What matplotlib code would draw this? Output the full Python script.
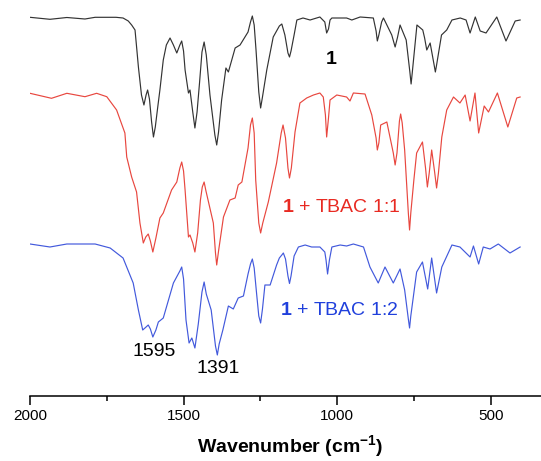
import numpy as np
import matplotlib
matplotlib.use("Agg")
import matplotlib.pyplot as plt

plt.rcParams['font.family'] = ['Liberation Sans', 'DejaVu Sans']
plt.rcParams['mathtext.fontset'] = 'custom'
plt.rcParams['mathtext.rm'] = 'Liberation Sans'
plt.rcParams['mathtext.bf'] = 'Liberation Sans:bold'

# IR spectra (wavenumber in cm-1, transmittance in arbitrary units)
wn_1 = [2000, 1935, 1880, 1821, 1788, 1720, 1697, 1680, 1669, 1658, 1652, 1647, 1637, 1629,
        1622, 1617, 1611, 1604, 1598, 1592, 1584, 1577, 1566, 1556, 1544, 1533, 1522, 1512,
        1506, 1500, 1495, 1484, 1479, 1470, 1463, 1456, 1448, 1440, 1433, 1426, 1414, 1398,
        1392, 1386, 1376, 1362, 1354, 1332, 1316, 1290, 1282, 1276, 1270, 1264, 1255, 1249,
        1243, 1229, 1208, 1188, 1180, 1170, 1160, 1155, 1150, 1140, 1131, 1111, 1088, 1056,
        1040, 1034, 1028, 1023, 1017, 969, 952, 925, 882, 873, 869, 864, 855, 849, 822, 811,
        803, 795, 775, 763, 759, 755, 740, 721, 715, 708, 697, 684, 680, 676, 660, 643, 626,
        599, 580, 567, 550, 534, 515, 480, 450, 420, 404]
t_1 = [99.7, 97.7, 99.5, 98, 99.7, 99.7, 99, 96, 92, 87, 67, 50, 22, 12,
       22, 27, 18, -5, -20, -10, 10, 27, 57, 72, 79, 72, 64, 72,
       76, 66, 47, 24, 27, 5, -11, 5, 34, 65, 75, 62, 22, -18,
       -28, -15, 17, 49, 45, 69, 72, 85, 95, 101, 92, 67, 25, 9,
       20, 47, 80, 91, 93, 82, 64, 60, 66, 82, 97, 99, 97, 100,
       95, 84, 88, 97, 99, 99, 97, 100, 99, 86, 76, 82, 95, 99, 82, 70,
       80, 92, 77, 45, 33, 45, 92, 87, 79, 67, 74, 52, 45, 52, 82, 87, 97,
       99, 97, 84, 100, 86, 84, 100, 76, 96, 97]

wn_11 = [2000, 1930, 1880, 1821, 1783, 1750, 1718, 1691, 1685, 1669, 1653, 1642, 1631, 1623,
         1615, 1608, 1600, 1590, 1577, 1566, 1539, 1522, 1512, 1506, 1500, 1495, 1484, 1479,
         1470, 1463, 1454, 1445, 1439, 1433, 1427, 1403, 1396, 1392, 1386, 1370, 1349, 1332,
         1322, 1310, 1290, 1282, 1276, 1270, 1265, 1255, 1249, 1242, 1224, 1197, 1182, 1176,
         1168, 1160, 1155, 1149, 1137, 1121, 1099, 1077, 1056, 1045, 1038, 1034, 1028, 1023,
         1001, 969, 958, 947, 909, 887, 873, 869, 864, 858, 838, 817, 811, 805, 797, 793, 788,
         780, 768, 764, 760, 750, 741, 722, 712, 706, 700, 692, 682, 676, 670, 659, 643, 621,
         600, 583, 567, 551, 539, 521, 507, 478, 444, 415, 404]
t_11 = [99.7, 94.7, 99.7, 96.3, 99.7, 96.3, 83, 60, 36, 16, 1, -30, -50, -44,
        -41, -48, -59, -45, -25, -20, 3, 11, 25, 31, 22, 3, -44, -42,
        -50, -59, -40, -7, 6, 11, 2, -30, -60, -72, -58, -24, -7, -5,
        8, 11, 45, 68, 75, 60, 13, -30, -40, -30, -9, 30, 60, 68,
        55, 25, 15, 25, 61, 90, 95, 98, 100, 96, 78, 56, 75, 93,
        98, 96, 92, 100, 99, 78, 55, 43, 50, 68, 71, 40, 28, 40, 72, 79, 70,
        43, -20, -37, -20, 13, 40, 51, 25, 6, 20, 43, 20, 5, 20, 56, 83, 96,
        90, 98, 72, 100, 60, 87, 81, 100, 66, 95, 96]

wn_12 = [2000, 1935, 1880, 1788, 1739, 1697, 1664, 1647, 1633, 1622, 1615, 1608, 1600, 1590,
         1582, 1566, 1533, 1512, 1506, 1500, 1492, 1482, 1473, 1463, 1452, 1440, 1433, 1426,
         1410, 1396, 1390, 1384, 1372, 1354, 1338, 1322, 1305, 1290, 1282, 1276, 1270, 1262,
         1255, 1249, 1243, 1235, 1218, 1197, 1188, 1180, 1175, 1168, 1160, 1155, 1150, 1140,
         1126, 1104, 1083, 1056, 1040, 1036, 1031, 1025, 1017, 990, 969, 947, 914, 893, 866,
         844, 817, 795, 780, 768, 764, 760, 741, 722, 705, 692, 676, 659, 626, 600, 567, 556,
         539, 524, 502, 475, 437, 404]
t_12 = [100, 97, 100, 100, 96, 86, 61, 34, 14, 17, 19, 15, 7, 14,
        22, 26, 61, 73, 77, 65, 24, 1, 6, -4, 20, 52, 62, 50,
        34, -2, -11, 0, 14, 38, 35, 46, 48, 70, 80, 85, 76, 50,
        28, 21, 35, 59, 59, 79, 86, 89, 91, 85, 68, 60.5, 68, 88,
        97, 99, 97, 97, 92, 84, 70, 84, 97, 99, 98, 100, 97, 77, 61,
        77, 61, 75, 54, 25, 16, 28, 72, 82, 55, 86, 51, 77, 99, 97, 87, 98,
        80, 97, 95, 100, 91, 97]

offsets = [0, -76, -227]
colors = ['#333333', '#e8473f', '#4259dc']

fig = plt.figure(figsize=(5.41, 4.61), dpi=100)
ax = fig.add_axes([30 / 541, 65 / 461, 511 / 541, 396 / 461])

for wn, t, off, c in zip([wn_1, wn_11, wn_12], [t_1, t_11, t_12], offsets, colors):
    ax.plot(wn, np.array(t) + off, color=c, lw=0.85, solid_joinstyle='round')

ax.set_xlim(2000, 336)
ax.set_ylim(-279, 117)

for s in ['top', 'left', 'right']:
    ax.spines[s].set_visible(False)
ax.spines['bottom'].set_linewidth(1.1)
ax.set_yticks([])
ax.set_xticks([2000, 1500, 1000, 500])
ax.set_xticks([1750, 1250, 750], minor=True)
ax.tick_params(axis='x', which='major', length=6.5, width=1.1, labelsize=11, pad=3)
ax.tick_params(axis='x', which='minor', length=3.6, width=1.1)

ax.set_xlabel(r'Wavenumber (cm$^{\mathbf{-1}}$)', fontsize=14, fontweight='bold')
ax.xaxis.set_label_coords(0.509, -0.128)
ax.xaxis.label.set_va('center')

ax.text(1020, 57, '1', fontsize=14, fontweight='bold', color='black', ha='center', va='center')
ax.text(1180, -90, r'$\mathbf{1}$ + TBAC 1:1', fontsize=14, color='#e82a22', ha='left', va='center')
ax.text(1186, -193, r'$\mathbf{1}$ + TBAC 1:2', fontsize=14, color='#2040dc', ha='left', va='center')
ax.text(1597, -234, '1595', fontsize=14, color='black', ha='center', va='center')
ax.text(1387, -251, '1391', fontsize=14, color='black', ha='center', va='center')

fig.savefig('out.png', dpi=100)
